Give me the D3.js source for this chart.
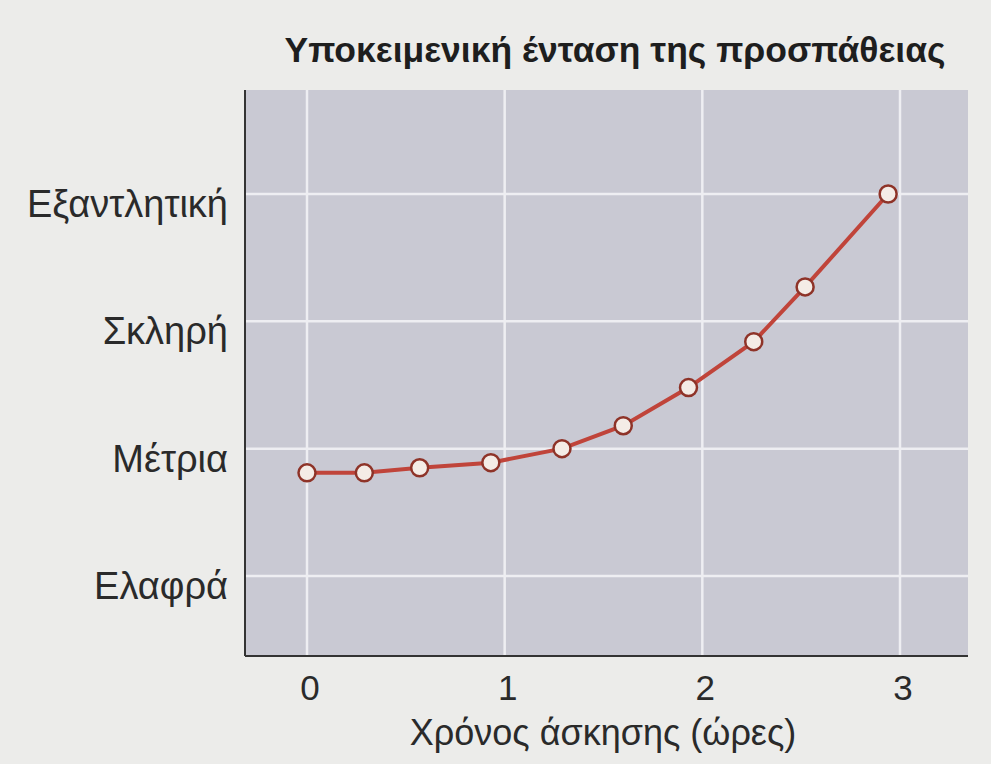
<!DOCTYPE html>
<html><head><meta charset="utf-8">
<script src="https://cdn.jsdelivr.net/npm/d3@7"></script>
<style>body{margin:0;background:#ececea;}svg{display:block;}</style>
</head><body>
<svg id="c" width="991" height="764"></svg>
<script>
const title = "Υποκειμενική ένταση της προσπάθειας";
const xLabel = "Χρόνος άσκησης (ώρες)";
const xTicks = [0, 1, 2, 3];
const yLevels = [1, 2, 3, 4];
const yTickLabels = ["Ελαφρά", "Μέτρια", "Σκληρή", "Εξαντλητική"];
const hours = [0, 0.29, 0.57, 0.93, 1.29, 1.60, 1.93, 2.26, 2.52, 2.94];
const effort = [1.81, 1.81, 1.85, 1.89, 2.0, 2.18, 2.48, 2.84, 3.27, 4.0];

const svg = d3.select("#c");
const plot = {left: 245, right: 968, top: 90, bottom: 656};
const x = d3.scaleLinear().domain([0, 3]).range([307, 900]);
const y = d3.scaleLinear().domain([1, 4]).range([576, 194]);
const font = "'Liberation Sans', Arial, sans-serif";

svg.append("rect").attr("x", plot.left).attr("y", plot.top)
  .attr("width", plot.right - plot.left).attr("height", plot.bottom - plot.top)
  .attr("fill", "#c9c9d3");

// gridlines
svg.append("g").selectAll("line").data(xTicks).join("line")
  .attr("x1", d => x(d)).attr("x2", d => x(d))
  .attr("y1", plot.top).attr("y2", plot.bottom)
  .attr("stroke", "#eeeef2").attr("stroke-width", 2.5);
svg.append("g").selectAll("line").data(yLevels).join("line")
  .attr("x1", plot.left).attr("x2", plot.right)
  .attr("y1", d => y(d)).attr("y2", d => y(d))
  .attr("stroke", "#eeeef2").attr("stroke-width", 2.5);

// axis lines
svg.append("line").attr("x1", plot.left).attr("x2", plot.left)
  .attr("y1", plot.top).attr("y2", plot.bottom).attr("stroke", "#333").attr("stroke-width", 2);
svg.append("line").attr("x1", plot.left).attr("x2", plot.right)
  .attr("y1", plot.bottom).attr("y2", plot.bottom).attr("stroke", "#333").attr("stroke-width", 2);

// tick labels
svg.append("g").selectAll("text").data(xTicks).join("text")
  .attr("x", d => x(d) + 3).attr("y", 700)
  .attr("text-anchor", "middle").attr("font-family", font).attr("font-size", 35)
  .attr("fill", "#2a2a2a").text(d => d);
svg.append("g").selectAll("text").data(yLevels).join("text")
  .attr("x", 228).attr("y", d => y(d) + 23)
  .attr("text-anchor", "end").attr("font-family", font).attr("font-size", 38)
  .attr("fill", "#2a2a2a").text((d, i) => yTickLabels[i]);

// title and axis label
svg.append("text").attr("x", 615).attr("y", 62).attr("text-anchor", "middle")
  .attr("font-family", font).attr("font-weight", "bold").attr("font-size", 35.5)
  .attr("fill", "#1e1e1e").text(title);
svg.append("text").attr("x", 603).attr("y", 745).attr("text-anchor", "middle")
  .attr("font-family", font).attr("font-size", 36)
  .attr("fill", "#2a2a2a").text(xLabel);

// line and markers
const pts = hours.map((h, i) => [h, effort[i]]);
svg.append("path").datum(pts)
  .attr("d", d3.line().x(d => x(d[0])).y(d => y(d[1])))
  .attr("fill", "none").attr("stroke", "#c0443a").attr("stroke-width", 4);
svg.append("g").selectAll("circle").data(pts).join("circle")
  .attr("cx", d => x(d[0])).attr("cy", d => y(d[1])).attr("r", 8.5)
  .attr("fill", "#f4ece6").attr("stroke", "#8e3328").attr("stroke-width", 2.5);
</script>
</body></html>
